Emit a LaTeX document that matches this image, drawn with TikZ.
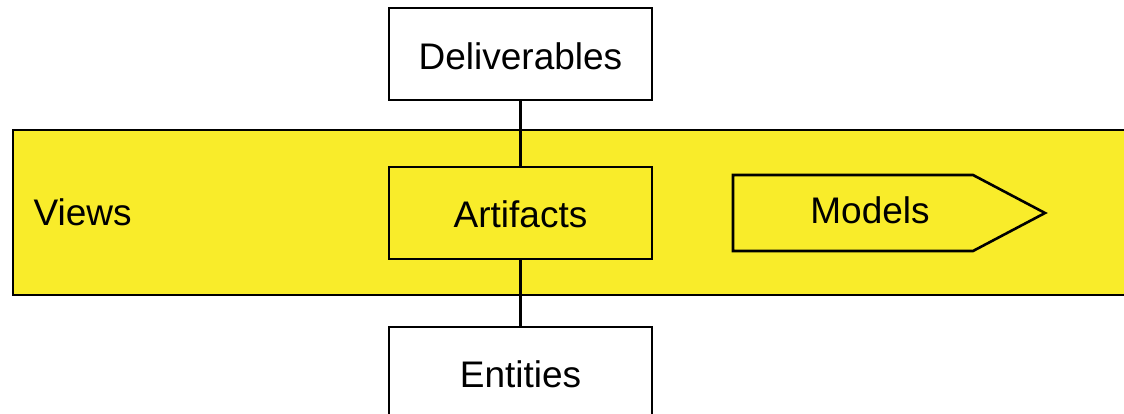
\documentclass[tikz,border=0pt]{standalone}
\usepackage{fontspec}
\setmainfont{Liberation Sans}
\definecolor{bandyellow}{RGB}{249,236,42}
\begin{document}
\begin{tikzpicture}[x=1pt,y=-1pt,
  lbl/.style={font=\fontsize{37}{44}\selectfont, text=black},
  boxline/.style={draw=black, line width=2.6pt},
  link/.style={draw=black, line width=2.6pt}]
\useasboundingbox (0,0) rectangle (1124,414);
\clip (0,0) rectangle (1124,414);
% yellow band
\path[boxline, fill=bandyellow] (13,130) rectangle (1135,295);
\node[lbl, anchor=west] (views) at (30,212) {Views};
% boxes
\path[boxline, fill=white] (389,8) rectangle (652,100);
\node[lbl] (deliv) at (520.5,56) {Deliverables};
\coordinate (delivb) at (520.5,100);
\path[boxline, fill=bandyellow] (389,167) rectangle (652,259);
\node[lbl] (artif) at (520.5,214) {Artifacts};
\coordinate (artift) at (520.5,167);
\coordinate (artifb) at (520.5,259);
\path[boxline, fill=white] (389,327) rectangle (652,430);
\node[lbl] (ent) at (520.5,374) {Entities};
\coordinate (entt) at (520.5,327);
% connectors
\draw[link] (delivb) -- (artift);
\draw[link] (artifb) -- (entt);
% Models pentagon
\path[boxline, fill=bandyellow, line join=miter] (733,175) -- (973,175) -- (1045,213) -- (973,251) -- (733,251) -- cycle;
\node[lbl] (models) at (870,210) {Models};
\end{tikzpicture}
\end{document}
